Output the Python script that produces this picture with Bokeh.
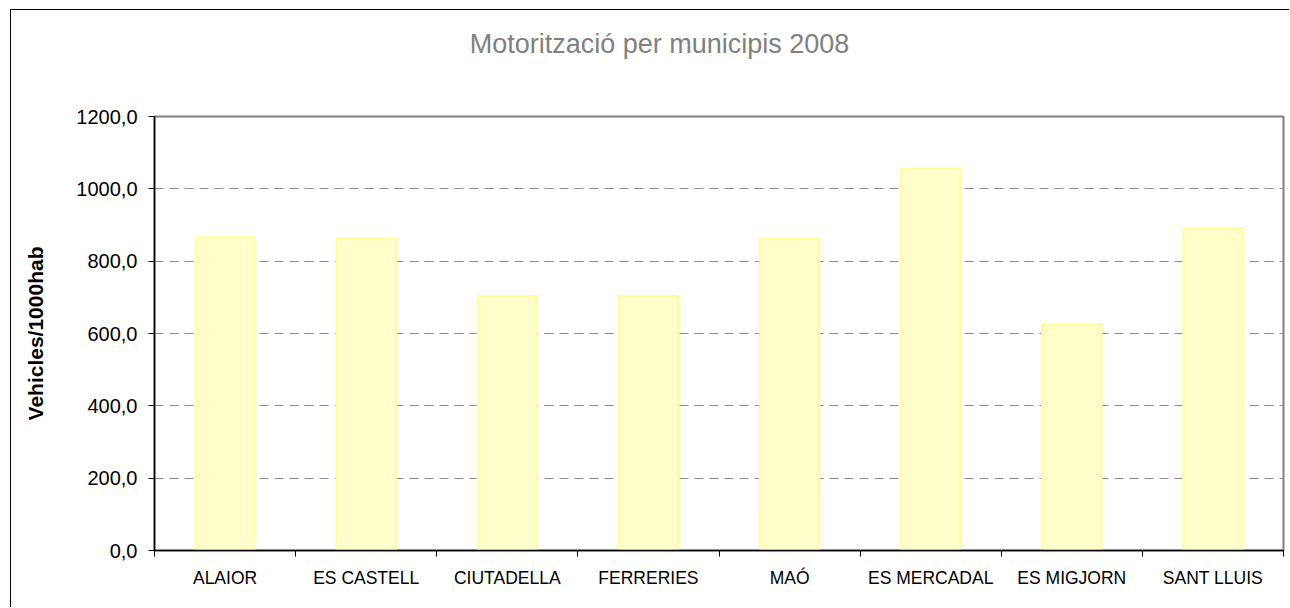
from bokeh.plotting import figure
from bokeh.layouts import column
from bokeh.models import ColumnDataSource, FixedTicker, CustomJSTickFormatter, Range1d, Div
from bokeh.embed import file_html
from bokeh.resources import INLINE

categories = ["ALAIOR", "ES CASTELL", "CIUTADELLA", "FERRERIES", "MAÓ",
              "ES MERCADAL", "ES MIGJORN", "SANT LLUIS"]
values = [866.0, 863.0, 704.0, 704.0, 862.0, 1055.0, 626.0, 892.0]
y_ticks = [0, 200, 400, 600, 800, 1000, 1200]
title_text = "Motorització per municipis 2008"
y_label = "Vehicles/1000hab"

FONT = "Liberation Sans"

n = len(categories)
centers = [i + 0.5 for i in range(n)]
src = ColumnDataSource(dict(x=centers, top=values, name=categories))

title = Div(text=title_text, width=1278, height=90, margin=(0, 0, 0, 0),
            styles={"font-family": FONT, "font-size": "27px", "color": "#808080",
                    "text-align": "center", "padding-left": "19px",
                    "padding-top": "19px", "box-sizing": "border-box",
                    "line-height": "1.15", "background": "white"})

p = figure(width=1278, height=507, output_backend="svg", toolbar_location=None,
           x_range=Range1d(0, n), y_range=Range1d(0, 1200), margin=(0, 0, 0, 0),
           min_border_left=143, min_border_right=6, min_border_top=16, min_border_bottom=57)

p.vbar(x="x", top="top", width=0.42, source=src, fill_color="#FFFFCC",
       line_color="#FFFF99", line_width=2)

p.outline_line_color = "#808080"
p.outline_line_width = 2
p.background_fill_color = "white"
p.border_fill_color = "white"

# x axis
xa = p.xaxis[0]
xa.ticker = FixedTicker(ticks=centers, minor_ticks=list(range(n + 1)))
xa.major_label_overrides = {c: name for c, name in zip(centers, categories)}
xa.major_tick_out = 0
xa.major_tick_in = 0
xa.minor_tick_out = 6
xa.minor_tick_in = 0
xa.minor_tick_line_color = "black"
xa.axis_line_color = "black"
xa.axis_line_width = 1.5
xa.major_label_text_font = FONT
xa.major_label_text_font_size = "17.5px"
xa.major_label_text_color = "black"
xa.major_label_standoff = 11
p.xgrid.visible = False

# y axis
ya = p.yaxis[0]
ya.ticker = FixedTicker(ticks=y_ticks, minor_ticks=[])
ya.formatter = CustomJSTickFormatter(code="return tick.toFixed(1).replace('.', ',');")
ya.major_tick_out = 6
ya.major_tick_in = 0
ya.major_tick_line_color = "black"
ya.axis_line_color = "black"
ya.axis_line_width = 1.5
ya.major_label_text_font = FONT
ya.major_label_text_font_size = "20px"
ya.major_label_text_color = "black"
ya.major_label_standoff = 11
ya.axis_label = y_label
ya.axis_label_text_font = FONT
ya.axis_label_text_font_size = "21px"
ya.axis_label_text_font_style = "bold"
ya.axis_label_text_color = "black"
ya.axis_label_standoff = 26

p.ygrid.grid_line_color = "#8c8c8c"
p.ygrid.grid_line_dash = "9 6"
p.ygrid.grid_line_width = 1

layout = column(title, p, spacing=0,
                styles={"border-top": "1.5px solid black", "border-left": "1.5px solid black",
                        "margin-left": "10px", "margin-top": "9px", "background": "white"})

open("out.html", "w").write(file_html(layout, INLINE))
